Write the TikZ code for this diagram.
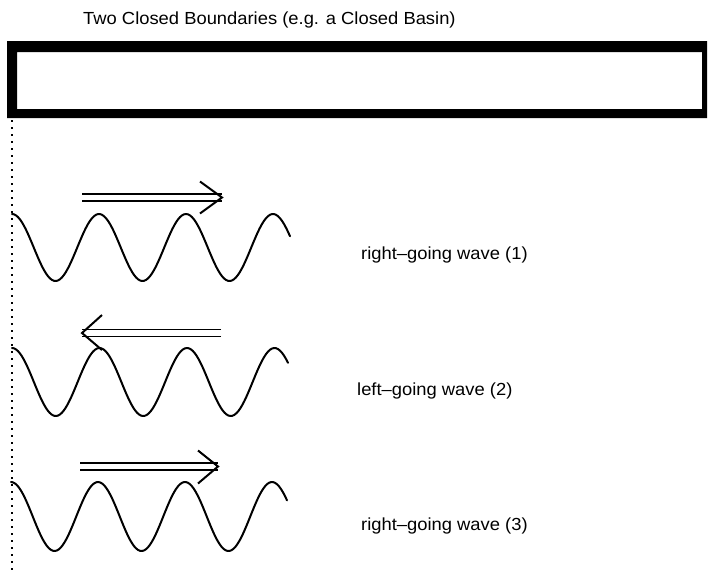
\documentclass[tikz,border=0pt]{standalone}
\usepackage{fontspec}
\setmainfont{Liberation Sans}
\begin{document}
\begin{tikzpicture}[x=1pt,y=-1pt]
\tikzset{
 wave/.style={line width=2pt, line cap=round, line join=round},
 shaft/.style={line width=1.9pt},
 barb/.style={line width=2pt, line join=miter},
 lbl/.style={anchor=base west, inner sep=0pt, font=\fontsize{17.5}{21}\selectfont}
}
\fill[white] (0,0) rectangle (710,573);
\useasboundingbox (0,0) rectangle (710,573);
% closed basin box
\fill[black, even odd rule] (7,41) rectangle (707,118) (17,52) rectangle (702,109);
% dotted boundary
\coordinate (d0) at (12,120);
\coordinate (d1) at (12,573);
\draw[line width=1.5pt, dash pattern=on 1.5pt off 5.5pt] (d0) -- (d1);
% waves
\draw[wave] plot[domain=12:290, samples=140, smooth] (\x, {247.5 - 33.5*cos(4.13793*(\x-12))});
\draw[wave] plot[domain=12:288, samples=140, smooth] (\x, {382 - 34*cos(4.11429*(\x-12))});
\draw[wave] plot[domain=11:287, samples=140, smooth] (\x, {516.5 - 34.5*cos(4.13793*(\x-11))});
% arrow 1 (right)
\coordinate (a1s) at (82,197.5);
\coordinate (a1t) at (222,197.5);
\draw[shaft] ([yshift=3.5pt]a1s) -- ([yshift=3.5pt]a1t);
\draw[shaft] ([yshift=-3.5pt]a1s) -- ([yshift=-3.5pt]a1t);
\draw[barb] ([shift={(-22,-16)}]a1t) -- (a1t) -- ([shift={(-22,16)}]a1t);
% arrow 2 (left)
\coordinate (a2s) at (221,333);
\coordinate (a2t) at (82,333);
\draw[shaft] ([yshift=3.5pt]a2s) -- ([yshift=3.5pt]a2t);
\draw[shaft] ([yshift=-3.5pt]a2s) -- ([yshift=-3.5pt]a2t);
\draw[barb] ([shift={(20,-18)}]a2t) -- (a2t) -- ([shift={(20,17)}]a2t);
% arrow 3 (right)
\coordinate (a3s) at (80,466.5);
\coordinate (a3t) at (218,466.5);
\draw[shaft] ([yshift=3.5pt]a3s) -- ([yshift=3.5pt]a3t);
\draw[shaft] ([yshift=-3.5pt]a3s) -- ([yshift=-3.5pt]a3t);
\draw[barb] ([shift={(-20,-16)}]a3t) -- (a3t) -- ([shift={(-20,17)}]a3t);
% labels
\node[lbl] (title) at (83,24) {\scalebox{1.05}[1]{Two Closed Boundaries (e.g. a Closed Basin)}};
\node[lbl] (l1) at (361,259) {\scalebox{1.05}[1]{right--going wave (1)}};
\node[lbl] (l2) at (357,395) {\scalebox{1.05}[1]{left--going wave (2)}};
\node[lbl] (l3) at (361,530) {\scalebox{1.05}[1]{right--going wave (3)}};
\end{tikzpicture}
\end{document}
